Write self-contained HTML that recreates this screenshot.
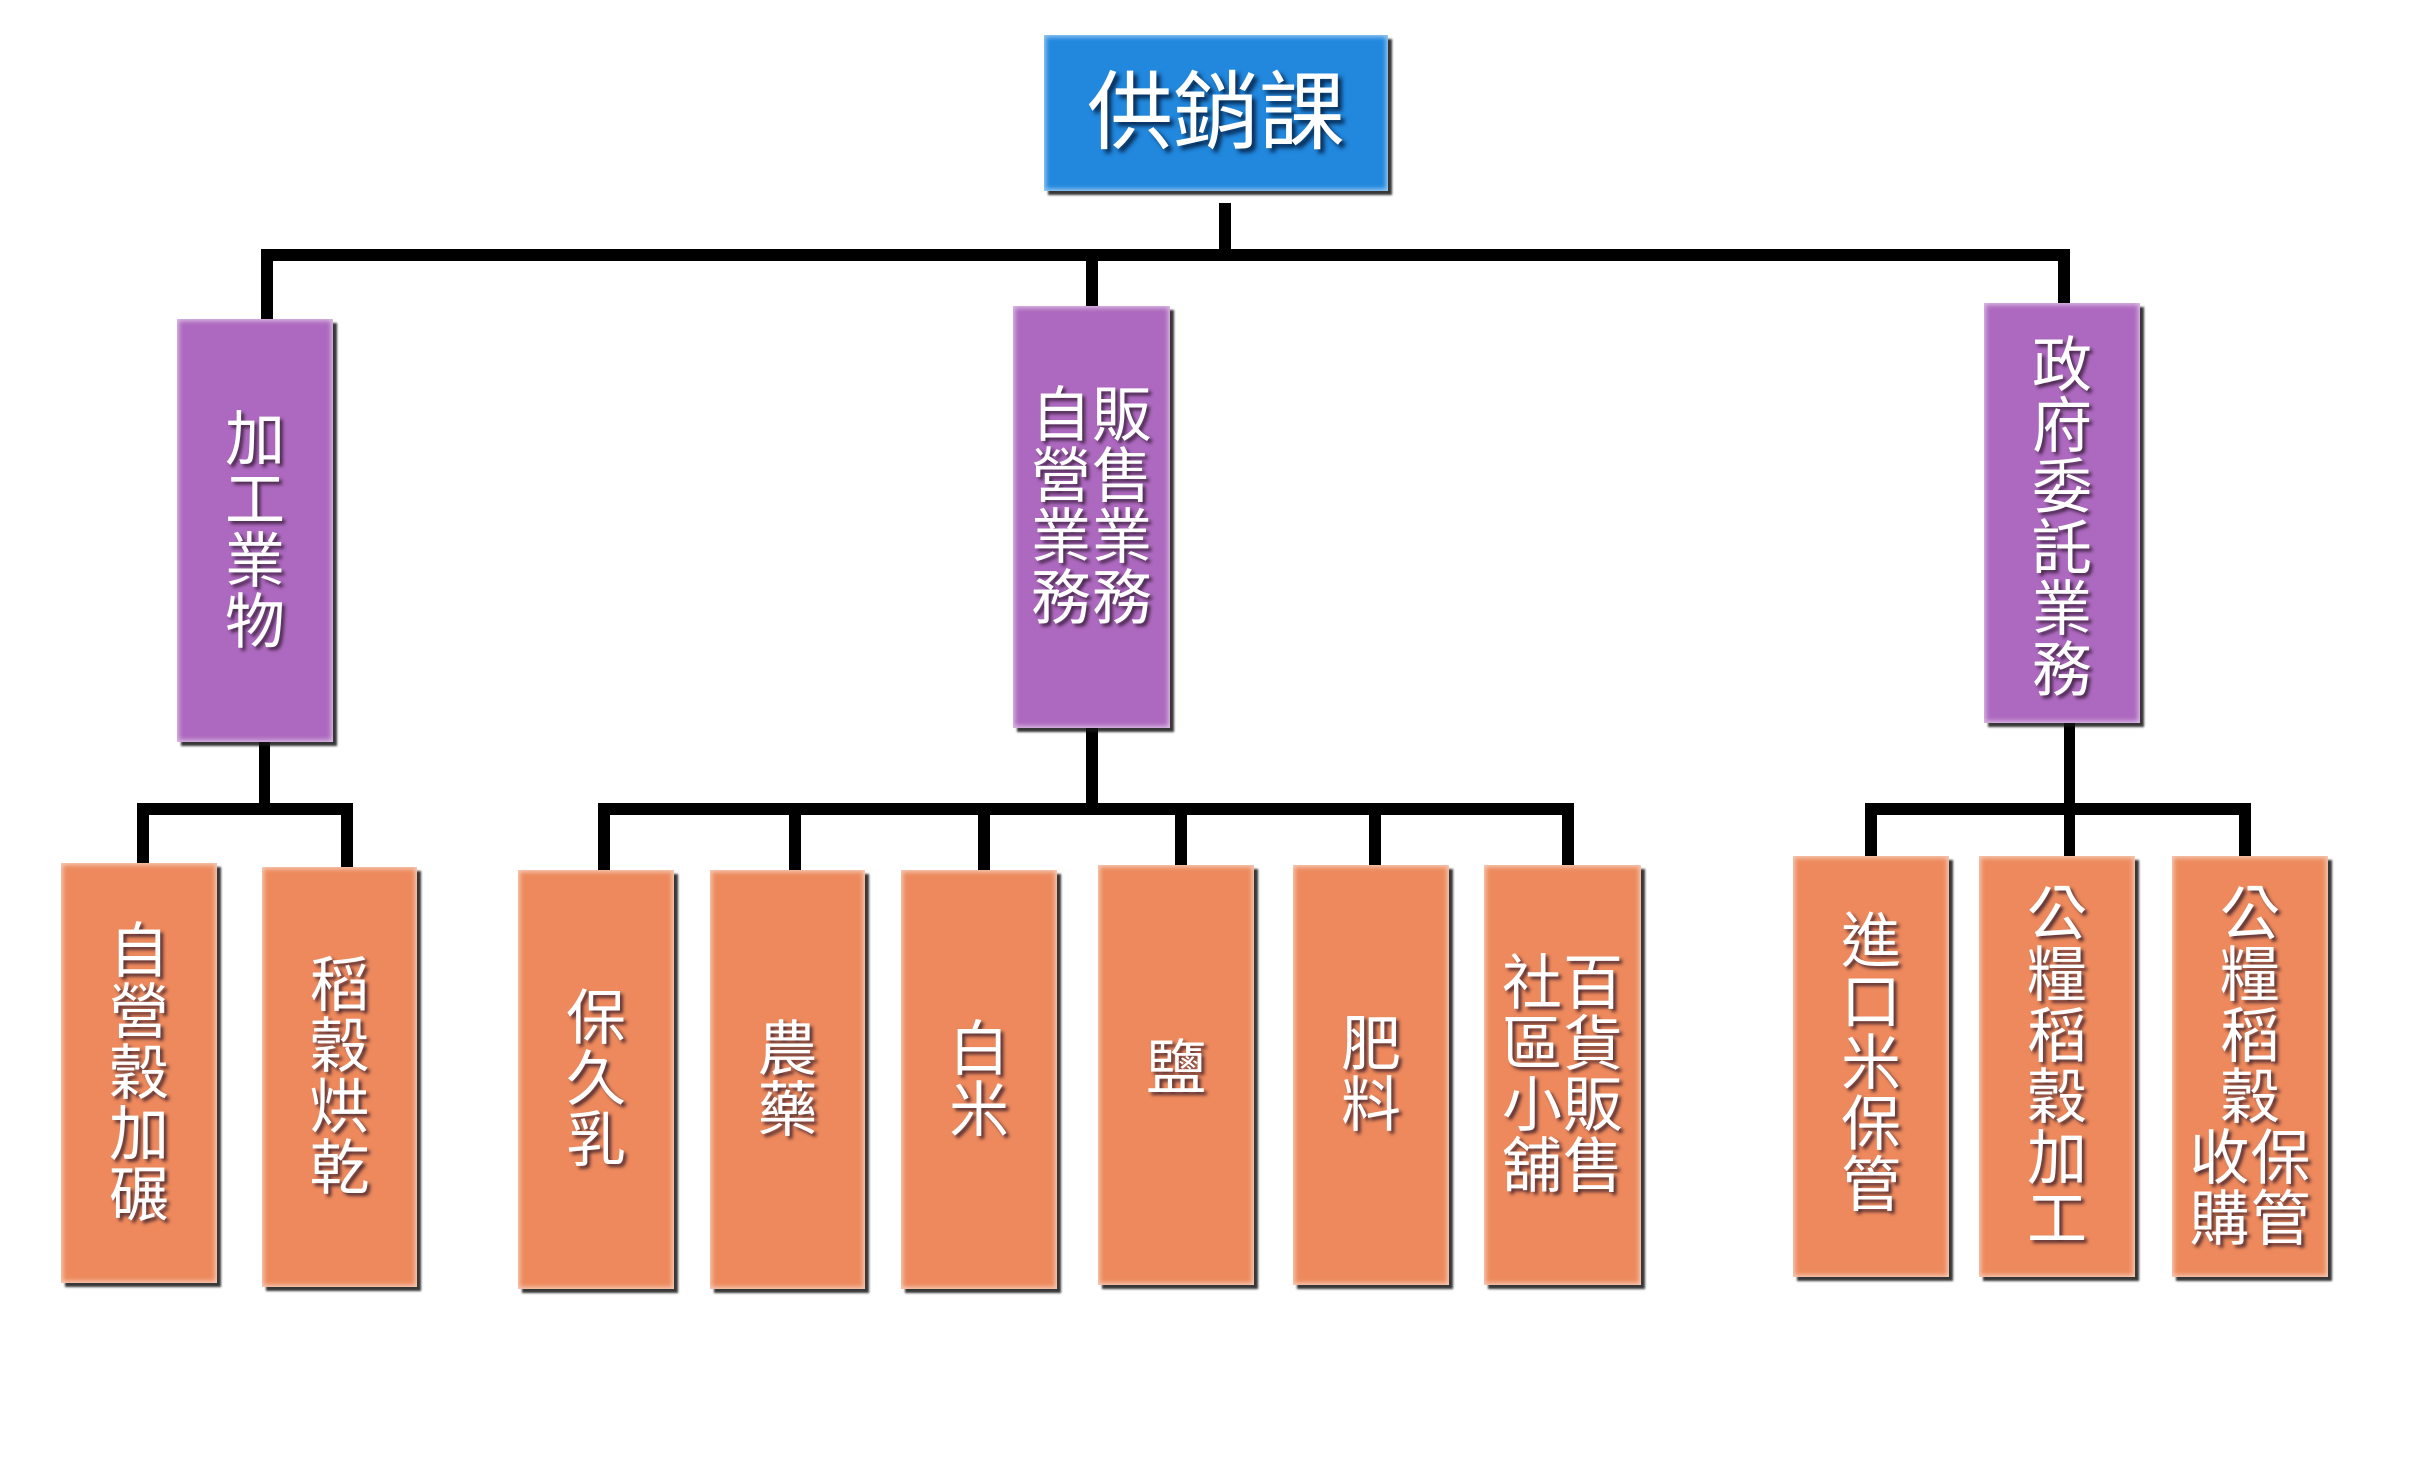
<!DOCTYPE html>
<html>
<head>
<meta charset="utf-8">
<style>
  html, body { margin:0; padding:0; background:#ffffff; }
  body { width:2432px; height:1480px; position:relative; overflow:hidden;
         font-family:"Liberation Sans","Noto Sans CJK TC","Noto Sans CJK JP",sans-serif; }
  .ln { position:absolute; background:#000; }
  .box { position:absolute; box-sizing:border-box;
         box-shadow: 4px 4px 2px rgba(20,20,20,0.85), inset 0 0 5px 2px rgba(255,255,255,0.55);
         display:flex; align-items:center; justify-content:center; flex-direction:row-reverse;
         color:#fff; text-shadow: 3px 3px 3px rgba(40,20,40,0.75); }
  .blue { background:#2188de; }
  .pur { background:#ad69bf; }
  .org { background:#ed895c; }
  .col { width:61px; font-size:60px; line-height:61px; text-align:center; }
  .col div { height:61px; }
</style>
</head>
<body>

<!-- connectors: top level -->
<div class="ln" style="left:1219px;top:203px;width:12px;height:58px;"></div>
<div class="ln" style="left:261px;top:249px;width:1809px;height:12px;"></div>
<div class="ln" style="left:261px;top:249px;width:12px;height:72px;"></div>
<div class="ln" style="left:1086px;top:249px;width:12px;height:59px;"></div>
<div class="ln" style="left:2058px;top:249px;width:12px;height:56px;"></div>

<!-- left group -->
<div class="ln" style="left:259px;top:740px;width:11px;height:75px;"></div>
<div class="ln" style="left:137px;top:803px;width:216px;height:12px;"></div>
<div class="ln" style="left:137px;top:803px;width:12px;height:62px;"></div>
<div class="ln" style="left:341px;top:803px;width:12px;height:66px;"></div>

<!-- middle group -->
<div class="ln" style="left:1086px;top:726px;width:12px;height:89px;"></div>
<div class="ln" style="left:598px;top:803px;width:976px;height:12px;"></div>
<div class="ln" style="left:598px;top:803px;width:12px;height:69px;"></div>
<div class="ln" style="left:789px;top:803px;width:12px;height:69px;"></div>
<div class="ln" style="left:978px;top:803px;width:12px;height:69px;"></div>
<div class="ln" style="left:1175px;top:803px;width:12px;height:64px;"></div>
<div class="ln" style="left:1369px;top:803px;width:12px;height:64px;"></div>
<div class="ln" style="left:1562px;top:803px;width:12px;height:64px;"></div>

<!-- right group -->
<div class="ln" style="left:2064px;top:721px;width:11px;height:94px;"></div>
<div class="ln" style="left:1865px;top:803px;width:386px;height:12px;"></div>
<div class="ln" style="left:1865px;top:803px;width:12px;height:55px;"></div>
<div class="ln" style="left:2064px;top:803px;width:11px;height:55px;"></div>
<div class="ln" style="left:2239px;top:803px;width:12px;height:55px;"></div>

<!-- top box -->
<div class="box blue" style="left:1044px;top:35px;width:344px;height:156px;">
  <div style="font-size:86px;line-height:100px;letter-spacing:0px;text-shadow:4px 4px 4px rgba(0,20,50,0.8);">供銷課</div>
</div>

<!-- purple boxes -->
<div class="box pur" style="left:177px;top:319px;width:156px;height:423px;">
  <div class="col"><div>加</div><div>工</div><div>業</div><div>物</div></div>
</div>
<div class="box pur" style="left:1013px;top:306px;width:157px;height:422px;padding-bottom:20px;">
  <div class="col"><div>販</div><div>售</div><div>業</div><div>務</div></div>
  <div class="col"><div>自</div><div>營</div><div>業</div><div>務</div></div>
</div>
<div class="box pur" style="left:1984px;top:303px;width:156px;height:420px;padding-top:10px;">
  <div class="col"><div>政</div><div>府</div><div>委</div><div>託</div><div>業</div><div>務</div></div>
</div>

<!-- left group boxes -->
<div class="box org" style="left:61px;top:863px;width:156px;height:420px;">
  <div class="col"><div>自</div><div>營</div><div>穀</div><div>加</div><div>碾</div></div>
</div>
<div class="box org" style="left:262px;top:867px;width:155px;height:420px;">
  <div class="col"><div>稻</div><div>穀</div><div>烘</div><div>乾</div></div>
</div>

<!-- middle group boxes -->
<div class="box org" style="left:518px;top:870px;width:156px;height:419px;">
  <div class="col"><div>保</div><div>久</div><div>乳</div></div>
</div>
<div class="box org" style="left:710px;top:870px;width:155px;height:419px;">
  <div class="col"><div>農</div><div>藥</div></div>
</div>
<div class="box org" style="left:901px;top:870px;width:156px;height:419px;">
  <div class="col"><div>白</div><div>米</div></div>
</div>
<div class="box org" style="left:1098px;top:865px;width:156px;height:420px;padding-bottom:14px;">
  <div class="col"><div>鹽</div></div>
</div>
<div class="box org" style="left:1293px;top:865px;width:156px;height:420px;">
  <div class="col"><div>肥</div><div>料</div></div>
</div>
<div class="box org" style="left:1484px;top:865px;width:157px;height:420px;">
  <div class="col"><div>百</div><div>貨</div><div>販</div><div>售</div></div>
  <div class="col"><div>社</div><div>區</div><div>小</div><div>舖</div></div>
</div>

<!-- right group boxes -->
<div class="box org" style="left:1793px;top:856px;width:156px;height:421px;padding-bottom:6px;">
  <div class="col"><div>進</div><div>口</div><div>米</div><div>保</div><div>管</div></div>
</div>
<div class="box org" style="left:1979px;top:856px;width:156px;height:421px;">
  <div class="col"><div>公</div><div>糧</div><div>稻</div><div>穀</div><div>加</div><div>工</div></div>
</div>
<div class="box org" style="left:2172px;top:856px;width:156px;height:421px;flex-direction:column;">
  <div class="col"><div>公</div><div>糧</div><div>稻</div><div>穀</div></div>
  <div style="display:flex;flex-direction:row-reverse;">
    <div class="col"><div>保</div><div>管</div></div>
    <div class="col"><div>收</div><div>購</div></div>
  </div>
</div>

</body>
</html>
